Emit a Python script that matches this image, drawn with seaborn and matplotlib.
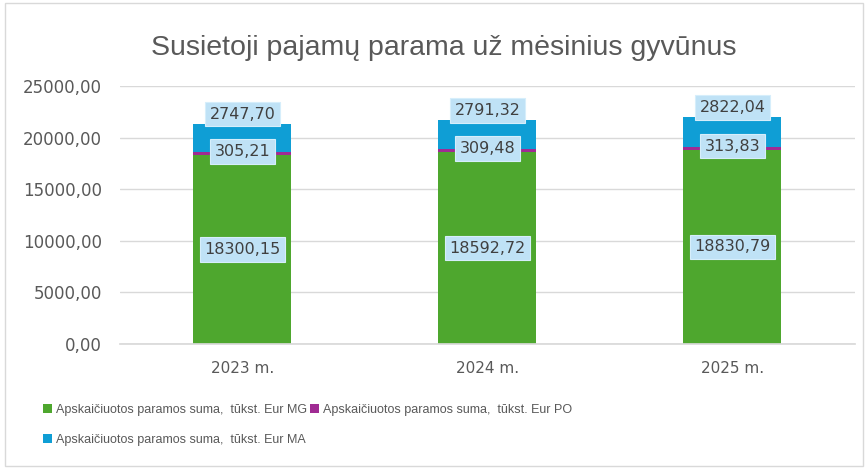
import matplotlib
matplotlib.use("Agg")
import matplotlib.pyplot as plt
import seaborn as sns
import pandas as pd
import numpy as np
from matplotlib.patches import Rectangle

years = ["2023 m.", "2024 m.", "2025 m."]
mg = [18300.15, 18592.72, 18830.79]
po = [305.21, 309.48, 313.83]
ma = [2747.70, 2791.32, 2822.04]
series_names = [
    "Apskaičiuotos paramos suma,  tūkst. Eur MG",
    "Apskaičiuotos paramos suma,  tūkst. Eur PO",
    "Apskaičiuotos paramos suma,  tūkst. Eur MA",
]
colors = ["#4ea72e", "#a02b93", "#0f9ed5"]
yticks = [0, 5000, 10000, 15000, 20000, 25000]

def fmt(v):
    return f"{v:.2f}".replace(".", ",")

sns.set_theme(style="white")
plt.rcParams["font.family"] = ["DejaVu Sans"]
sans = ["Liberation Sans", "DejaVu Sans"]

fig = plt.figure(figsize=(8.68, 4.68), dpi=100)
ax = fig.add_axes([0.1382, 0.265, 0.8468, 0.551])

df = pd.DataFrame({"year": years, "MG": mg, "PO": po, "MA": ma})
bottom = np.zeros(len(years))
for col, name, c in zip(["MG", "PO", "MA"], series_names, colors):
    sns.barplot(data=df, x="year", y=col, bottom=bottom, color=c, width=0.4,
                ax=ax, saturation=1, label=name, linewidth=0, edgecolor="none")
    bottom = bottom + df[col].values

bbox = dict(boxstyle="square,pad=0.3", facecolor="#bfe2f6", edgecolor="#d6eefb", linewidth=0.8)
lab_kw = dict(ha="center", va="center", fontsize=11.5, color="#404040", bbox=bbox)
for i in range(len(years)):
    ax.text(i, mg[i] / 2, fmt(mg[i]), **lab_kw)
    ax.annotate(fmt(po[i]), xy=(i, mg[i] + po[i] / 2), xytext=(0, 1.5),
                textcoords="offset points", **lab_kw)
    top = mg[i] + po[i] + ma[i]
    ax.annotate(fmt(ma[i]), xy=(i, top), xytext=(0, 7), textcoords="offset points", **lab_kw)

ax.set_ylim(0, 25000)
ax.set_xlim(-0.5, 2.5)
ax.set_yticks(yticks)
ax.set_yticklabels([fmt(v) for v in yticks], fontsize=12, color="#595959")
ax.tick_params(axis="x", labelsize=11, labelcolor="#595959", length=0, pad=12)
ax.tick_params(axis="y", length=0, pad=13)
ax.set_xlabel("")
ax.set_ylabel("")
ax.grid(axis="y", color="#d9d9d9", linewidth=1)
ax.set_axisbelow(True)
for s in ["top", "right", "left"]:
    ax.spines[s].set_visible(False)
ax.spines["bottom"].set_color("#d9d9d9")

if ax.legend_:
    ax.legend_.remove()
h, l = ax.get_legend_handles_labels()
order = [0, 2, 1]
fig.legend([h[k] for k in order], [l[k] for k in order], ncol=2, loc="upper left",
           bbox_to_anchor=(0.044, 0.148), frameon=False,
           prop={"family": sans, "size": 9},
           labelcolor="#595959", handlelength=0.7, handleheight=0.7,
           handletextpad=0.3, columnspacing=0.3, labelspacing=1.45, borderaxespad=0)

fig.text(0.511, 0.898, "Susietoji pajamų parama už mėsinius gyvūnus", ha="center",
         va="center", fontsize=20.5, color="#595959", family=sans)

fig.patches.append(Rectangle((0.006, 0.004), 0.988, 0.99, transform=fig.transFigure,
                             fill=False, edgecolor="#d9d9d9", linewidth=1))

fig.savefig("out.png", dpi=100)
